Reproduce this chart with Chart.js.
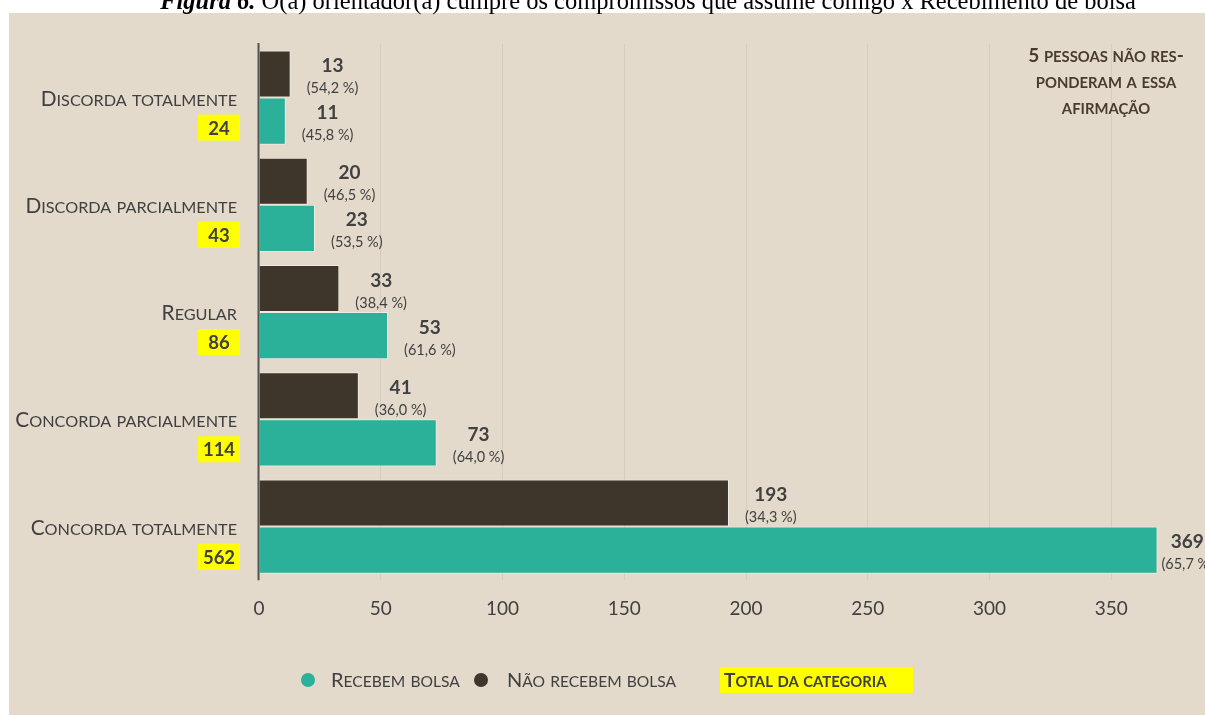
<!DOCTYPE html>
<html>
<head>
<meta charset="utf-8">
<script src="https://cdn.jsdelivr.net/npm/chart.js@4.4.1/dist/chart.umd.min.js"></script>
<style>
  html, body { margin: 0; padding: 0; background: #fff; }
  #wrap { position: relative; width: 1205px; height: 715px; overflow: hidden; }
  canvas { display: block; }
</style>
</head>
<body>
<div id="wrap"><canvas id="chart" width="1205" height="715"></canvas></div>
<script>
'use strict';

// ── Data ─────────────────────────────────────────────────────────────────
const CATEGORIES  = ['Discorda totalmente', 'Discorda parcialmente', 'Regular', 'Concorda parcialmente', 'Concorda totalmente'];
const NAO_RECEBEM = [13, 20, 33, 41, 193];
const RECEBEM     = [11, 23, 53, 73, 369];
const X_TICKS     = [0, 50, 100, 150, 200, 250, 300, 350];
const NOTE_LINES  = ['5 pessoas não res-', 'ponderam a essa', 'afirmação'];
const LEGEND      = ['Recebem bolsa', 'Não recebem bolsa', 'Total da categoria'];
const TITLE_BOLD  = 'Figura 6.';
const TITLE_REST  = ' O(a) orientador(a) cumpre os compromissos que assume comigo x Recebimento de bolsa';

// ── Colours / fonts ──────────────────────────────────────────────────────
const BG     = '#E3DACC';
const GRID   = '#D6CCBC';
const TEAL   = '#2BB19A';
const DARK   = '#3E362A';
const TEXT   = '#404040';
const NOTE   = '#4A3B30';
const YELLOW = '#FFFF00';
const FONT   = "Lato, 'Open Sans', sans-serif";
const SERIF  = "'Liberation Serif', 'Times New Roman', serif";

const TOTALS = RECEBEM.map((v, i) => v + NAO_RECEBEM[i]);

// small caps by hand: lowercase letters drawn as smaller capitals
const smallCaps = (ctx, str, x, y, big, ratio, weight, align) => {
  const runs = [];
  for (const ch of str) {
    const low = ch !== ch.toUpperCase();
    const size = low ? big * ratio : big;
    const t = low ? ch.toUpperCase() : ch;
    const last = runs[runs.length - 1];
    if (last && last.s === size) last.t += t;
    else runs.push({ t, s: size });
  }
  let w = 0;
  runs.forEach(r => {
    ctx.font = `${weight} ${r.s}px ${FONT}`;
    r.w = ctx.measureText(r.t).width;
    w += r.w;
  });
  let cx = align === 'right' ? x - w : align === 'center' ? x - w / 2 : x;
  ctx.textAlign = 'left';
  ctx.textBaseline = 'alphabetic';
  runs.forEach(r => {
    ctx.font = `${weight} ${r.s}px ${FONT}`;
    ctx.fillText(r.t, cx, y);
    cx += r.w;
  });
  return w;
};

const pct = (v, total) => '(' + (v / total * 100).toFixed(1).replace('.', ',') + ' %)';

// ── Decorations plugin ───────────────────────────────────────────────────
const decor = {
  id: 'decor',
  beforeDraw(chart) {
    const ctx = chart.ctx;
    ctx.save();
    ctx.fillStyle = BG;
    ctx.fillRect(9, 13, chart.width - 9, chart.height - 13);

    // title (top is cut off in the reference)
    ctx.fillStyle = '#000';
    ctx.textBaseline = 'alphabetic';
    ctx.textAlign = 'left';
    ctx.font = `italic bold 24.5px ${SERIF}`;
    const wb = ctx.measureText(TITLE_BOLD).width;
    ctx.font = `24.5px ${SERIF}`;
    const wr = ctx.measureText(TITLE_REST).width;
    const x0 = 648 - (wb + wr) / 2;
    ctx.font = `italic bold 24.5px ${SERIF}`;
    ctx.fillText(TITLE_BOLD, x0, 9);
    ctx.font = `24.5px ${SERIF}`;
    ctx.fillText(TITLE_REST, x0 + wb, 9);
    ctx.restore();
  },
  afterDatasetsDraw(chart) {
    const ctx = chart.ctx;
    const { x: xs, y: ys } = chart.scales;
    const area = chart.chartArea;
    ctx.save();

    // vertical axis line
    ctx.strokeStyle = '#555555';
    ctx.lineWidth = 2;
    ctx.beginPath();
    ctx.moveTo(xs.getPixelForValue(0) - 0.5, area.top - 1);
    ctx.lineTo(xs.getPixelForValue(0) - 0.5, area.bottom);
    ctx.stroke();

    // value labels
    ctx.fillStyle = TEXT;
    [NAO_RECEBEM, RECEBEM].forEach((arr, di) => {
      const meta = chart.getDatasetMeta(di);
      meta.data.forEach((bar, j) => {
        const val = String(arr[j]);
        const p = pct(arr[j], TOTALS[j]);
        ctx.font = `bold 19px ${FONT}`;
        const w1 = ctx.measureText(val).width;
        ctx.font = `14.5px ${FONT}`;
        const w2 = ctx.measureText(p).width;
        const w = Math.max(w1, w2);
        const left = Math.max(bar.x + 2, Math.min(bar.x + 16, chart.width + 8 - w));
        const cx = left + w / 2;
        ctx.textAlign = 'center';
        ctx.textBaseline = 'alphabetic';
        ctx.font = `bold 19px ${FONT}`;
        ctx.fillText(val, cx, bar.y - 2);
        ctx.font = `14.5px ${FONT}`;
        ctx.fillText(p, cx, bar.y + 19);
      });
    });

    // category labels + totals
    CATEGORIES.forEach((cat, i) => {
      const cy = ys.getPixelForValue(i);
      ctx.fillStyle = TEXT;
      smallCaps(ctx, cat, 237, cy + 8, 20.8, 0.78, 'normal', 'right');
      ctx.fillStyle = YELLOW;
      ctx.fillRect(198, cy + 17, 42, 26);
      ctx.fillStyle = TEXT;
      ctx.font = `bold 18.5px ${FONT}`;
      ctx.textAlign = 'center';
      ctx.fillText(String(TOTALS[i]), 219, cy + 37);
    });

    // note
    ctx.fillStyle = NOTE;
    NOTE_LINES.forEach((line, i) => {
      smallCaps(ctx, line, 1106, 62 + i * 26, 19, 0.78, 'bold', 'center');
    });

    // legend
    ctx.fillStyle = TEAL;
    ctx.beginPath(); ctx.arc(308, 680, 7, 0, Math.PI * 2); ctx.fill();
    ctx.fillStyle = DARK;
    ctx.beginPath(); ctx.arc(481, 680, 7, 0, Math.PI * 2); ctx.fill();
    ctx.fillStyle = TEXT;
    smallCaps(ctx, LEGEND[0], 331, 687, 20, 0.78, 'normal', 'left');
    smallCaps(ctx, LEGEND[1], 507, 687, 20, 0.78, 'normal', 'left');
    ctx.fillStyle = YELLOW;
    ctx.fillRect(720, 667, 193, 26);
    ctx.fillStyle = TEXT;
    smallCaps(ctx, LEGEND[2], 724, 687, 19, 0.78, 'bold', 'left');

    ctx.restore();
  },
};

new Chart(document.getElementById('chart'), {
  type: 'bar',
  data: {
    labels: CATEGORIES,
    datasets: [
      { label: LEGEND[1], data: NAO_RECEBEM, backgroundColor: DARK, borderColor: 'rgba(255,255,255,.45)', borderWidth: 1 },
      { label: LEGEND[0], data: RECEBEM,     backgroundColor: TEAL, borderColor: 'rgba(255,255,255,.45)', borderWidth: 1 },
    ],
  },
  options: {
    indexAxis: 'y',
    responsive: false,
    animation: false,
    categoryPercentage: 0.88,
    barPercentage: 1.0,
    layout: { padding: { left: 259, right: 45, top: 44, bottom: 78 } },
    plugins: { legend: { display: false }, tooltip: { enabled: false } },
    scales: {
      x: {
        min: 0,
        max: 370,
        afterBuildTicks: (axis) => { axis.ticks = X_TICKS.map(v => ({ value: v })); },
        grid: { color: GRID, drawTicks: false },
        border: { display: false },
        ticks: { color: TEXT, font: { family: FONT, size: 19 }, padding: 17 },
      },
      y: { display: false },
    },
  },
  plugins: [decor],
});
</script>
</body>
</html>
